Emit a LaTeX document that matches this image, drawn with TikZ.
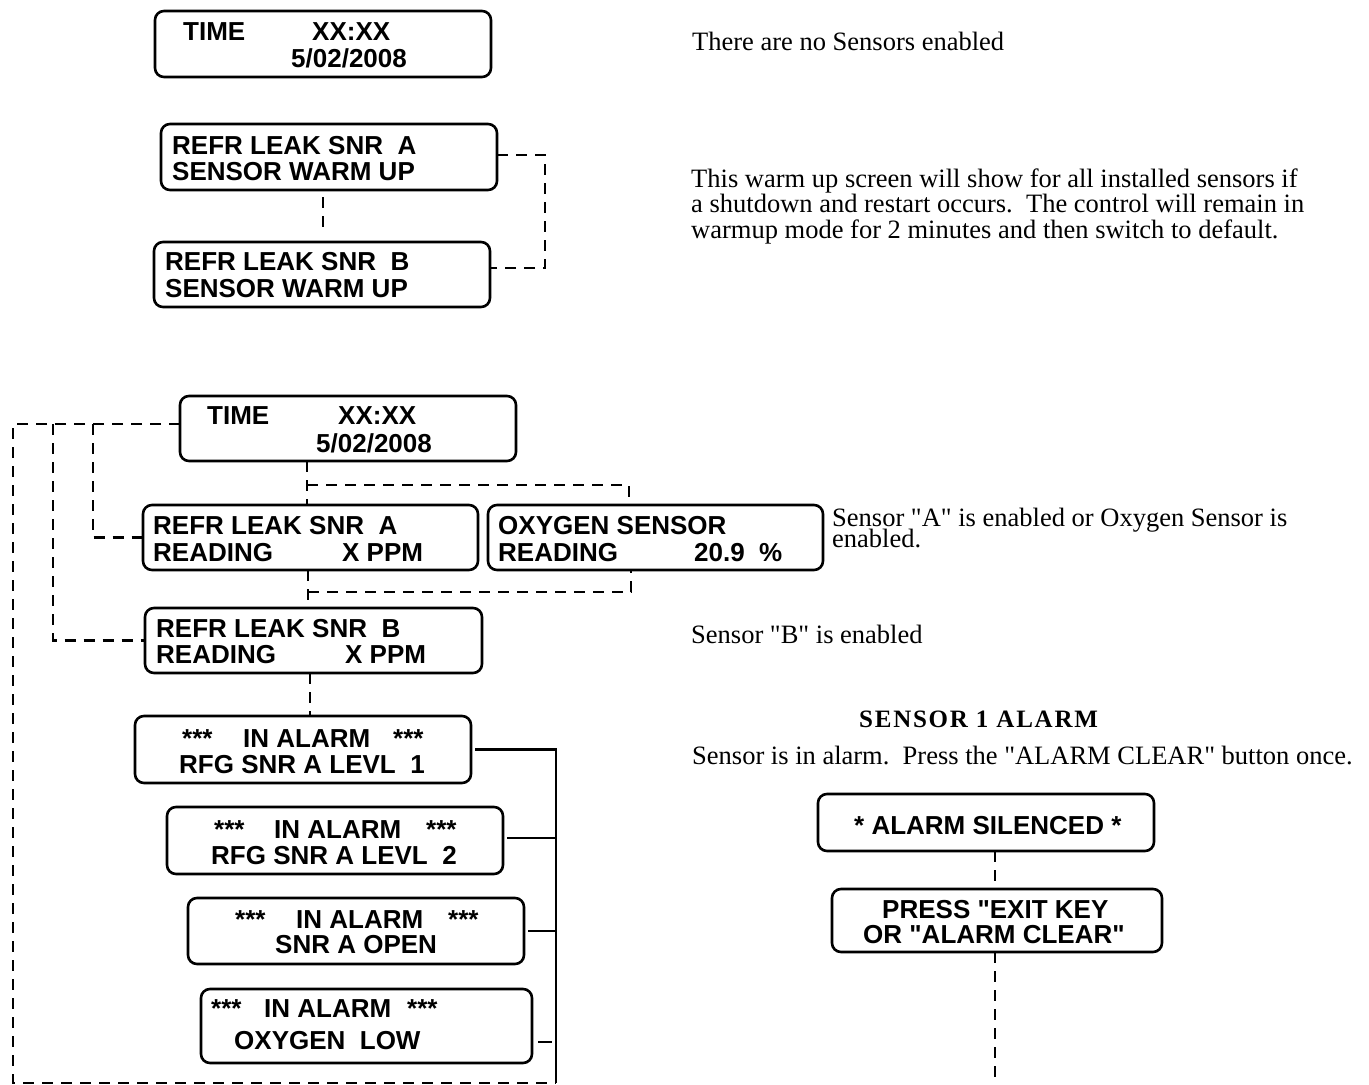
\documentclass[tikz,border=0pt]{standalone}
\usepackage{fontspec}
\newfontfamily\serifx{Liberation Serif}
\newfontfamily\bxfont{Liberation Sans}
\begin{document}
\begin{tikzpicture}[x=1pt,y=-1pt,
  box/.style={draw, line width=2.6pt, rounded corners=9pt, fill=white, inner sep=0pt, outer sep=0pt},
  bt/.style={font=\bxfont\bfseries\fontsize{26}{27}\selectfont, inner sep=0pt, anchor=base west},
  et/.style={font=\serifx\fontsize{26.5}{26.5}\selectfont, inner sep=0pt, anchor=base west},
  dl/.style={line width=2.4pt, dash pattern=on 11pt off 8pt},
  sl/.style={line width=2.4pt}]
\useasboundingbox (0,0) rectangle (1369,1085);
% ---------- boxes ----------
\node[box, minimum width=336pt, minimum height=66pt] (t1) at (323,44) {};
\node[box, minimum width=336pt, minimum height=66pt] (wa) at (329,157) {};
\node[box, minimum width=336pt, minimum height=65pt] (wb) at (322,274.5) {};
\node[box, minimum width=336pt, minimum height=65pt] (t2) at (348,428.5) {};
\node[box, minimum width=335pt, minimum height=65pt] (ra) at (310.5,537.5) {};
\node[box, minimum width=335pt, minimum height=65pt] (ox) at (655.5,537.5) {};
\node[box, minimum width=337pt, minimum height=65pt] (rb) at (313.5,640.5) {};
\node[box, minimum width=336pt, minimum height=67pt] (a1) at (303,749.5) {};
\node[box, minimum width=336pt, minimum height=67pt] (a2) at (335,840.5) {};
\node[box, minimum width=336pt, minimum height=66pt] (a3) at (356,931) {};
\node[box, minimum width=331pt, minimum height=74pt] (a4) at (366.5,1026) {};
\node[box, minimum width=336pt, minimum height=57pt] (s1) at (986,822.5) {};
\node[box, minimum width=330pt, minimum height=63pt] (s2) at (997,920.5) {};
% ---------- box texts ----------
\node[bt] (t1x1) at (183,40) {TIME};
\node[bt] (t1x2) at (312,40) {XX:XX};
\node[bt] (t1x3) at (291,67) {5/02/2008};
\node[bt] (wax1) at (172,154) {REFR LEAK SNR\ \ A};
\node[bt] (wax2) at (172,180) {SENSOR WARM UP};
\node[bt] (wbx1) at (165,270) {REFR LEAK SNR\ \ B};
\node[bt] (wbx2) at (165,297) {SENSOR WARM UP};
\node[bt] (t2x1) at (207,424) {TIME};
\node[bt] (t2x2) at (338,424) {XX:XX};
\node[bt] (t2x3) at (316,452) {5/02/2008};
\node[bt] (rax1) at (153,534) {REFR LEAK SNR\ \ A};
\node[bt] (rax2) at (153,561) {READING};
\node[bt] (rax3) at (342,561) {X PPM};
\node[bt] (oxx1) at (498,534) {OXYGEN SENSOR};
\node[bt] (oxx2) at (498,561) {READING};
\node[bt] (oxx3) at (694,561) {20.9\ \ \%};
\node[bt] (rbx1) at (156,637) {REFR LEAK SNR\ \ B};
\node[bt] (rbx2) at (156,663) {READING};
\node[bt] (rbx3) at (345,663) {X PPM};
\node[bt] (a1x1) at (182,747) {***};
\node[bt] (a1x2) at (243,747) {IN ALARM};
\node[bt] (a1x3) at (393,747) {***};
\node[bt] (a1x4) at (179,773) {RFG SNR A LEVL\ \ 1};
\node[bt] (a2x1) at (214,838) {***};
\node[bt] (a2x2) at (274,838) {IN ALARM};
\node[bt] (a2x3) at (426,838) {***};
\node[bt] (a2x4) at (211,864) {RFG SNR A LEVL\ \ 2};
\node[bt] (a3x1) at (235,928) {***};
\node[bt] (a3x2) at (296,928) {IN ALARM};
\node[bt] (a3x3) at (448,928) {***};
\node[bt] (a3x4) at (275,953) {SNR A OPEN};
\node[bt] (a4x1) at (211,1017) {***};
\node[bt] (a4x2) at (264,1017) {IN ALARM};
\node[bt] (a4x3) at (407,1017) {***};
\node[bt] (a4x4) at (234,1049) {OXYGEN\ \ LOW};
\node[bt] (s1x1) at (854,834) {* ALARM SILENCED *};
\node[bt] (s2x1) at (882,918) {PRESS "EXIT KEY};
\node[bt] (s2x2) at (863,943) {OR "ALARM CLEAR"};
% ---------- explanatory texts ----------
\node[et] (e1) at (692,50) {There are no Sensors enabled};
\node[et] (e2) at (691,187.5) {This warm up screen will show for all installed sensors if};
\node[et] (e3) at (691,212.5) {a shutdown and restart occurs.\ \ The control will remain in};
\node[et] (e4) at (691,238) {warmup mode for 2 minutes and then switch to default.};
\node[et] (e5) at (832,526) {Sensor "A" is enabled or Oxygen Sensor is};
\node[et] (e6) at (832,547) {enabled.};
\node[et] (e7) at (691,643) {Sensor "B" is enabled};
\node[et, font=\serifx\bfseries\fontsize{25}{25}\selectfont\addfontfeature{LetterSpace=7}] (e8) at (859,727) {SENSOR 1 ALARM};
\node[et] (e9) at (692,764) {Sensor is in alarm.\ \ Press the "ALARM CLEAR" button once.};
% ---------- coordinates ----------
\coordinate (L1) at (13,424);
\coordinate (L2) at (53,424);
\coordinate (L3) at (93,424);
\coordinate (LB) at (13,1083);
\coordinate (busTop) at (556,749.5);
\coordinate (busBot) at (556,1083);
\coordinate (j3) at (307,485);
\coordinate (j4) at (308,592);
\coordinate (sEnd) at (995,1085);
% ---------- dashed connectors ----------
\draw[dl] ([yshift=2pt]wa.east) -- ++(48,0) |- ([yshift=6.5pt]wb.east);
\draw[dl, shorten <=7pt, shorten >=11pt] ([xshift=-6pt]wa.south) -- ([xshift=1pt]wb.north);
\draw[dl] ([yshift=4.5pt]t2.west) -- (L1) -- (LB) -- (busBot);
\draw[dl] (L3) |- (ra.west);
\draw[dl] (L2) |- (rb.west);
\draw[dl] (t2.south -| j3) -- (ra.north -| j3);
\draw[dl] (j3) -| ([xshift=-26.5pt]ox.north);
\draw[dl] (ra.south -| j4) -- (rb.north -| j4);
\draw[dl] (j4) -| ([xshift=-24.5pt]ox.south);
\draw[dl] (rb.south -| 310,0) -- (a1.north -| 310,0);
\draw[dl] ([xshift=9pt]s1.south) -- ([xshift=-2pt]s2.north);
\draw[dl] ([xshift=-2pt]s2.south) -- (sEnd);
% ---------- solid bus ----------
\draw[sl] ([xshift=4pt]a1.east) -- (busTop) -- (busBot);
\draw[sl] ([xshift=4pt,yshift=2.5pt]a2.east) -- ([yshift=2.5pt]a2.east -| busTop);
\draw[sl] ([xshift=4pt]a3.east) -- (a3.east -| busTop);
\draw[sl] ([xshift=6pt,yshift=-16pt]a4.east) -- ++(14,0);
\end{tikzpicture}
\end{document}
